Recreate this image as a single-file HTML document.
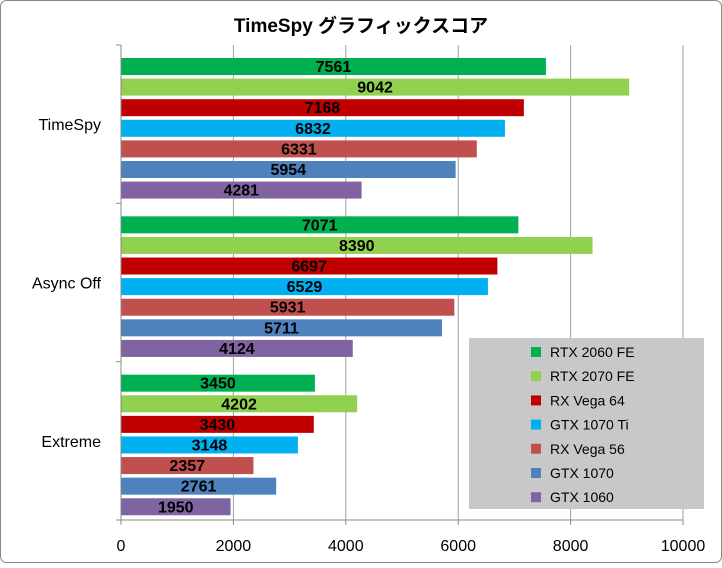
<!DOCTYPE html>
<html><head><meta charset="utf-8"><style>
body{margin:0;background:#fff;width:722px;height:563px;overflow:hidden}
text{font-family:"Liberation Sans","Noto Sans CJK JP",sans-serif}
</style></head><body>
<svg id="chart" width="722" height="563">
<rect x="0.5" y="0.5" width="721" height="562" rx="6" fill="#fff" stroke="#888"/>
<text x="361" y="32" text-anchor="middle" font-size="19" font-weight="bold">TimeSpy グラフィックスコア</text>
<g id="grid"></g><g id="bars"></g><g id="axes"></g>
<g>
<rect x="469" y="338" width="235" height="171" fill="#c8c8c8"/>
<g id="legend"></g>
</g>
</svg>
<script>
const categories=["TimeSpy","Async Off","Extreme"];
const seriesNames=["RTX 2060 FE","RTX 2070 FE","RX Vega 64","GTX 1070 Ti","RX Vega 56","GTX 1070","GTX 1060"];
const colors=["#00b050","#92d050","#c00000","#00b0f0","#c0504d","#4f81bd","#8064a2"];
const timeSpy=[7561,9042,7168,6832,6331,5954,4281];
const asyncOff=[7071,8390,6697,6529,5931,5711,4124];
const extreme=[3450,4202,3430,3148,2357,2761,1950];
const xTicks=[0,2000,4000,6000,8000,10000];
const values=[timeSpy,asyncOff,extreme];
const NS="http://www.w3.org/2000/svg";
const x0=121,x1=683,xMax=10000,yTop=45,yBot=520;
const xs=v=>x0+(x1-x0)*v/xMax;
const band=(yBot-yTop)/categories.length;
function mk(t,a,p){const e=document.createElementNS(NS,t);for(const k in a)e.setAttribute(k,a[k]);p.appendChild(e);return e;}
const grid=document.getElementById('grid'),bars=document.getElementById('bars'),axes=document.getElementById('axes'),leg=document.getElementById('legend');
xTicks.forEach(v=>{
 if(v>0){const g=mk('line',{x1:xs(v),x2:xs(v),y1:yTop,y2:yBot,stroke:'#a0a0a0'},grid);
 
 }
 const tk=mk('line',{x1:xs(v),x2:xs(v),y1:yBot,y2:yBot+5,stroke:'#888'},axes);
 
 
 const t=mk('text',{x:xs(v),y:551,'text-anchor':'middle','font-size':16},axes);t.textContent=v;
 
 
});
const ax=mk('line',{x1:x0,x2:x0,y1:yTop,y2:yBot,stroke:'#888'},axes);


const bx=mk('line',{x1:x0,x2:x1,y1:yBot,y2:yBot,stroke:'#888'},axes);


for(let c=0;c<=categories.length;c++){const l=mk('line',{x1:x0-5,x2:x0,y1:yTop+c*band,y2:yTop+c*band,stroke:'#888'},axes);
 
 }
categories.forEach((cat,c)=>{
 const bt=yTop+c*band;
 const t=mk('text',{x:101,y:bt+band/2+6,'text-anchor':'end','font-size':16},axes);t.textContent=cat;
 
 
 values[c].forEach((v,i)=>{
  const y=bt+13+i*20.6;
  const r=mk('rect',{x:x0,y:y,width:xs(v)-x0,height:17,fill:colors[i]},bars);
  
  
  const lt=mk('text',{x:(x0+xs(v))/2,y:y+14,'text-anchor':'middle','font-size':16,'font-weight':'bold'},bars);lt.textContent=v;
  
  
 });
});
seriesNames.forEach((n,i)=>{
 const y=352+i*24.2;
 const m=mk('rect',{x:531,y:y-5,width:10,height:10,fill:colors[i]},leg);
 
 
 const t=mk('text',{x:550,y:y+5,'font-size':14},leg);t.textContent=n;
 
 
});
</script>
</body></html>
